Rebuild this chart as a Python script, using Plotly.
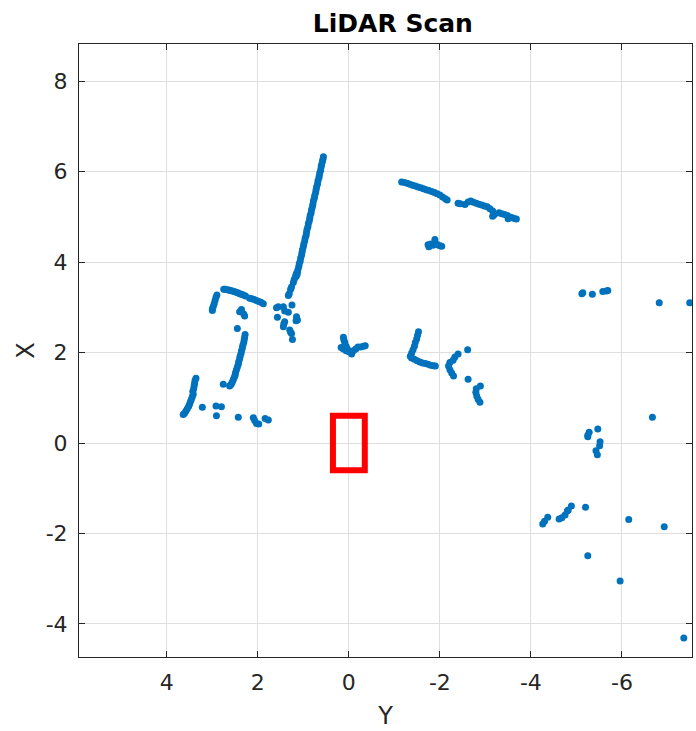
import plotly.graph_objects as go

# ---- scan returns, grouped by surface (Y = lateral, X = forward) ----
wall_diag_y = [0.56, 0.57, 0.58, 0.60, 0.61, 0.62, 0.64, 0.65, 0.66, 0.68, 0.69, 0.71, 0.72, 0.73,
               0.75, 0.76, 0.78, 0.79, 0.80, 0.82, 0.83, 0.85, 0.86, 0.87, 0.89, 0.90, 0.92, 0.93,
               0.94, 0.96, 0.97, 0.99, 1.00, 1.02, 1.03, 1.04, 1.06, 1.07, 1.09, 1.10, 1.12, 1.13,
               1.14, 1.16, 1.15, 1.17, 1.20, 1.22, 1.26, 1.28, 1.31, 1.33]
wall_diag_x = [6.33, 6.27, 6.22, 6.15, 6.10, 6.03, 5.97, 5.91, 5.86, 5.79, 5.72, 5.66, 5.60, 5.54,
               5.47, 5.41, 5.35, 5.28, 5.22, 5.16, 5.09, 5.03, 4.97, 4.91, 4.85, 4.78, 4.72, 4.66,
               4.59, 4.53, 4.47, 4.40, 4.34, 4.27, 4.21, 4.15, 4.09, 4.02, 3.96, 3.90, 3.83, 3.77,
               3.72, 3.68, 3.75, 3.70, 3.62, 3.55, 3.45, 3.40, 3.30, 3.26]

bracket_y = [2.75, 2.72, 2.68, 2.64, 2.60, 2.56, 2.52, 2.48, 2.44, 2.40, 2.36, 2.32, 2.27,
             2.18, 2.13, 2.08, 2.03, 1.98, 1.93, 1.88,
             2.90, 2.92, 2.94, 2.96, 2.98, 3.00, 3.00]
bracket_x = [3.40, 3.40, 3.39, 3.38, 3.37, 3.36, 3.35, 3.33, 3.32, 3.30, 3.29, 3.27, 3.25,
             3.20, 3.19, 3.17, 3.15, 3.13, 3.11, 3.08,
             3.27, 3.22, 3.15, 3.08, 3.02, 2.96, 2.93]

post_y = [2.28, 2.29, 2.30, 2.31, 2.33, 2.34, 2.36, 2.37, 2.39, 2.40, 2.42, 2.43, 2.45, 2.47,
          2.49, 2.50, 2.52, 2.54, 2.56, 2.58, 2.60, 2.62, 2.76,
          2.40, 2.36, 2.29, 2.31, 2.45]
post_x = [2.40, 2.34, 2.28, 2.22, 2.16, 2.10, 2.04, 1.98, 1.92, 1.86, 1.80, 1.74, 1.68, 1.62,
          1.56, 1.50, 1.45, 1.40, 1.35, 1.31, 1.28, 1.26, 1.30,
          2.90, 2.95, 2.81, 2.85, 2.53]

left_edge_y = [3.36, 3.38, 3.39, 3.40, 3.41, 3.43, 3.42, 3.44, 3.46, 3.48, 3.50, 3.52, 3.55,
               3.58, 3.61, 3.64,
               3.22, 2.92, 2.80, 2.91, 2.43, 2.10, 2.07, 2.03, 1.98, 1.84, 1.77]
left_edge_x = [1.43, 1.38, 1.32, 1.26, 1.20, 1.14, 1.08, 1.02, 0.97, 0.92, 0.86, 0.81, 0.76,
               0.71, 0.66, 0.63,
               0.79, 0.82, 0.80, 0.60, 0.57, 0.56, 0.50, 0.43, 0.42, 0.54, 0.51]

clutter_y = [1.59, 1.55, 1.44, 1.41, 1.25, 1.33, 1.57, 1.41, 1.44, 1.43, 1.15, 1.13, 1.16,
             1.30, 1.28, 1.26, 1.24]
clutter_x = [2.99, 3.01, 3.01, 2.92, 3.05, 2.89, 2.78, 2.68, 2.57, 2.63, 2.79, 2.72, 2.70,
             2.50, 2.45, 2.42, 2.29]

far_wall_y = [-1.16, -1.22, -1.28, -1.34, -1.40, -1.46, -1.52, -1.58, -1.64, -1.70, -1.76,
              -1.82, -1.88, -1.94, -2.00, -2.06, -2.12, -2.16,
              -2.40, -2.45, -2.55, -2.62, -2.68, -2.74, -2.80, -2.86, -2.92, -2.98, -3.04,
              -3.10, -3.16, -3.16, -3.20, -3.30, -3.36, -3.42, -3.48, -3.50, -3.56, -3.62, -3.68]
far_wall_x = [5.77, 5.76, 5.74, 5.72, 5.70, 5.68, 5.66, 5.64, 5.62, 5.60, 5.58,
              5.56, 5.54, 5.51, 5.48, 5.44, 5.40, 5.37,
              5.30, 5.29, 5.27, 5.33, 5.35, 5.32, 5.30, 5.28, 5.26, 5.24, 5.22,
              5.18, 5.13, 5.01, 5.05, 5.09, 5.07, 5.05, 5.03, 4.96, 4.99, 4.97, 4.95]

pillar_y = [-1.74, -1.76, -1.80, -1.85, -1.89, -1.90, -1.95, -2.00, -2.04]
pillar_x = [4.38, 4.34, 4.40, 4.37, 4.50, 4.42, 4.38, 4.36, 4.35]

front_obj_y = [0.12, 0.11, 0.09, 0.06, 0.03, 0.00, -0.06, 0.17, 0.12, 0.06,
               -0.10, -0.15, -0.20, -0.26, -0.32, -0.36]
front_obj_x = [2.34, 2.28, 2.22, 2.14, 2.07, 2.02, 1.97, 2.11, 2.08, 2.04,
               2.04, 2.08, 2.12, 2.12, 2.14, 2.15]

corner_y = [-1.53, -1.51, -1.49, -1.46, -1.44, -1.41, -1.38, -1.35,
            -1.38, -1.44, -1.50, -1.56, -1.62, -1.68, -1.74, -1.80, -1.86, -1.90,
            -2.61, -2.40, -2.33, -2.29, -2.22, -2.19, -2.22, -2.26, -2.30, -2.62,
            -2.89, -2.80, -2.79, -2.81, -2.84, -2.88]
corner_x = [2.46, 2.38, 2.30, 2.22, 2.14, 2.06, 1.99, 1.92,
            1.88, 1.85, 1.82, 1.79, 1.77, 1.76, 1.74, 1.72, 1.71, 1.70,
            2.06, 1.97, 1.90, 1.83, 1.78, 1.70, 1.62, 1.55, 1.48, 1.41,
            1.26, 1.20, 1.12, 1.04, 0.97, 0.90]

sparse_y = [-5.14, -5.12, -5.35, -5.58, -5.66, -5.69, -6.82, -7.49, -6.67,
            -5.47, -5.28, -5.25, -5.25, -5.52, -5.51, -5.43, -5.46,
            -4.26, -4.30, -4.37, -4.62, -4.68, -4.75, -4.80, -4.82, -4.89, -5.20,
            -6.15, -6.93, -5.25, -5.96, -7.36]
sparse_x = [3.32, 3.30, 3.29, 3.35, 3.36, 3.37, 3.10, 3.10, 0.57,
            0.31, 0.24, 0.17, 0.14, 0.03, -0.06, -0.17, -0.26,
            -1.79, -1.73, -1.64, -1.68, -1.65, -1.59, -1.50, -1.48, -1.39, -1.42,
            -1.69, -1.85, -2.49, -3.05, -4.31]

# ego vehicle footprint (closed outline)
vehicle_y = [0.35, -0.35, -0.35, 0.35, 0.35, -0.35]
vehicle_x = [0.60, 0.60, -0.60, -0.60, 0.60, 0.60]

# axis ticks (plain hyphen for negatives)
y_ticks = [4, 2, 0, -2, -4, -6]
y_tick_text = ["4", "2", "0", "-2", "-4", "-6"]
x_ticks = [-4, -2, 0, 2, 4, 6, 8]
x_tick_text = ["-4", "-2", "0", "2", "4", "6", "8"]

segments_y = [wall_diag_y, bracket_y, post_y, left_edge_y, clutter_y, far_wall_y,
              pillar_y, front_obj_y, corner_y, sparse_y]
segments_x = [wall_diag_x, bracket_x, post_x, left_edge_x, clutter_x, far_wall_x,
              pillar_x, front_obj_x, corner_x, sparse_x]
scan_y = [v for seg in segments_y for v in seg]
scan_x = [v for seg in segments_x for v in seg]

fig = go.Figure()
fig.add_trace(go.Scatter(
    x=scan_y, y=scan_x, mode="markers",
    marker=dict(size=7, color="#0072BD", line=dict(width=0)),
    hoverinfo="skip", showlegend=False,
))
fig.add_trace(go.Scatter(
    x=vehicle_y, y=vehicle_x, mode="lines",
    line=dict(color="#FF0000", width=6),
    hoverinfo="skip", showlegend=False,
))

axis_common = dict(
    showgrid=True, gridcolor="#dfdfdf", gridwidth=1,
    zeroline=False,
    showline=True, linecolor="#262626", linewidth=1, mirror="ticks",
    ticks="inside", ticklen=6, tickwidth=1, tickcolor="#262626",
    tickfont=dict(family="DejaVu Sans", size=22, color="#262626"),
)
label_font = dict(family="DejaVu Sans", size=24, color="#262626")

fig.update_layout(
    width=696, height=731,
    margin=dict(l=79, r=4, t=44, b=74),
    paper_bgcolor="white", plot_bgcolor="white",
    title=dict(text="<b>LiDAR Scan</b>", x=0.512, xref="paper", xanchor="center",
               y=1 - 23 / 731, yanchor="middle",
               font=dict(family="DejaVu Sans", size=25, color="black")),
    xaxis=dict(range=[5.93, -7.54], tickvals=y_ticks, ticktext=y_tick_text,
               ticklabelstandoff=6,
               title=dict(text="Y", font=label_font, standoff=12),
               **axis_common),
    yaxis=dict(range=[-4.73, 8.82], tickvals=x_ticks, ticktext=x_tick_text,
               ticklabelstandoff=6,
               title=dict(text="X", font=label_font, standoff=4),
               **axis_common),
)

fig.write_html("out.html")
